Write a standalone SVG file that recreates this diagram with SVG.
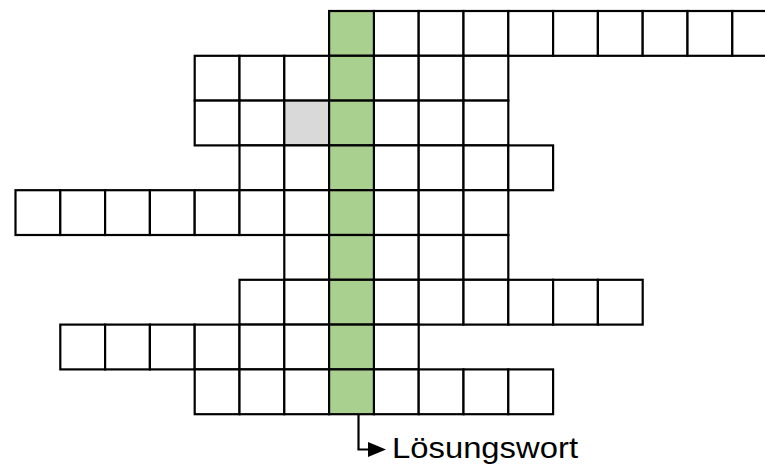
<svg xmlns="http://www.w3.org/2000/svg" width="765" height="465" viewBox="0 0 765 465">
<style>
.c{fill:#fff;stroke:#000;stroke-width:2.2}
.g{fill:#A9D08E;stroke:#000;stroke-width:2.2}
.x{fill:#D9D9D9;stroke:#000;stroke-width:2.2}
.t{font-family:"Liberation Sans",Arial,sans-serif;font-size:29px;fill:#000}
</style>
<rect width="765" height="465" fill="#fff"/>
<g id="row0">
<rect class="c" x="373.9" y="11" width="44.8" height="44.8"/>
<rect class="c" x="418.7" y="11" width="44.8" height="44.8"/>
<rect class="c" x="463.5" y="11" width="44.8" height="44.8"/>
<rect class="c" x="508.3" y="11" width="44.8" height="44.8"/>
<rect class="c" x="553.1" y="11" width="44.8" height="44.8"/>
<rect class="c" x="597.9" y="11" width="44.8" height="44.8"/>
<rect class="c" x="642.7" y="11" width="44.8" height="44.8"/>
<rect class="c" x="687.5" y="11" width="44.8" height="44.8"/>
<rect class="c" x="732.3" y="11" width="44.8" height="44.8"/>
</g>
<g id="row1">
<rect class="c" x="194.7" y="55.8" width="44.8" height="44.8"/>
<rect class="c" x="239.5" y="55.8" width="44.8" height="44.8"/>
<rect class="c" x="284.3" y="55.8" width="44.8" height="44.8"/>
<rect class="c" x="373.9" y="55.8" width="44.8" height="44.8"/>
<rect class="c" x="418.7" y="55.8" width="44.8" height="44.8"/>
<rect class="c" x="463.5" y="55.8" width="44.8" height="44.8"/>
</g>
<g id="row2">
<rect class="c" x="194.7" y="100.6" width="44.8" height="44.8"/>
<rect class="c" x="239.5" y="100.6" width="44.8" height="44.8"/>
<rect class="x" x="284.3" y="100.6" width="44.8" height="44.8"/>
<rect class="c" x="373.9" y="100.6" width="44.8" height="44.8"/>
<rect class="c" x="418.7" y="100.6" width="44.8" height="44.8"/>
<rect class="c" x="463.5" y="100.6" width="44.8" height="44.8"/>
</g>
<g id="row3">
<rect class="c" x="239.5" y="145.4" width="44.8" height="44.8"/>
<rect class="c" x="284.3" y="145.4" width="44.8" height="44.8"/>
<rect class="c" x="373.9" y="145.4" width="44.8" height="44.8"/>
<rect class="c" x="418.7" y="145.4" width="44.8" height="44.8"/>
<rect class="c" x="463.5" y="145.4" width="44.8" height="44.8"/>
<rect class="c" x="508.3" y="145.4" width="44.8" height="44.8"/>
</g>
<g id="row4">
<rect class="c" x="15.5" y="190.2" width="44.8" height="44.8"/>
<rect class="c" x="60.3" y="190.2" width="44.8" height="44.8"/>
<rect class="c" x="105.1" y="190.2" width="44.8" height="44.8"/>
<rect class="c" x="149.9" y="190.2" width="44.8" height="44.8"/>
<rect class="c" x="194.7" y="190.2" width="44.8" height="44.8"/>
<rect class="c" x="239.5" y="190.2" width="44.8" height="44.8"/>
<rect class="c" x="284.3" y="190.2" width="44.8" height="44.8"/>
<rect class="c" x="373.9" y="190.2" width="44.8" height="44.8"/>
<rect class="c" x="418.7" y="190.2" width="44.8" height="44.8"/>
<rect class="c" x="463.5" y="190.2" width="44.8" height="44.8"/>
</g>
<g id="row5">
<rect class="c" x="284.3" y="235" width="44.8" height="44.8"/>
<rect class="c" x="373.9" y="235" width="44.8" height="44.8"/>
<rect class="c" x="418.7" y="235" width="44.8" height="44.8"/>
<rect class="c" x="463.5" y="235" width="44.8" height="44.8"/>
</g>
<g id="row6">
<rect class="c" x="239.5" y="279.8" width="44.8" height="44.8"/>
<rect class="c" x="284.3" y="279.8" width="44.8" height="44.8"/>
<rect class="c" x="373.9" y="279.8" width="44.8" height="44.8"/>
<rect class="c" x="418.7" y="279.8" width="44.8" height="44.8"/>
<rect class="c" x="463.5" y="279.8" width="44.8" height="44.8"/>
<rect class="c" x="508.3" y="279.8" width="44.8" height="44.8"/>
<rect class="c" x="553.1" y="279.8" width="44.8" height="44.8"/>
<rect class="c" x="597.9" y="279.8" width="44.8" height="44.8"/>
</g>
<g id="row7">
<rect class="c" x="60.3" y="324.6" width="44.8" height="44.8"/>
<rect class="c" x="105.1" y="324.6" width="44.8" height="44.8"/>
<rect class="c" x="149.9" y="324.6" width="44.8" height="44.8"/>
<rect class="c" x="194.7" y="324.6" width="44.8" height="44.8"/>
<rect class="c" x="239.5" y="324.6" width="44.8" height="44.8"/>
<rect class="c" x="284.3" y="324.6" width="44.8" height="44.8"/>
<rect class="c" x="373.9" y="324.6" width="44.8" height="44.8"/>
</g>
<g id="row8">
<rect class="c" x="194.7" y="369.4" width="44.8" height="44.8"/>
<rect class="c" x="239.5" y="369.4" width="44.8" height="44.8"/>
<rect class="c" x="284.3" y="369.4" width="44.8" height="44.8"/>
<rect class="c" x="373.9" y="369.4" width="44.8" height="44.8"/>
<rect class="c" x="418.7" y="369.4" width="44.8" height="44.8"/>
<rect class="c" x="463.5" y="369.4" width="44.8" height="44.8"/>
<rect class="c" x="508.3" y="369.4" width="44.8" height="44.8"/>
</g>
<g id="solution">
<rect class="g" x="329.1" y="11" width="44.8" height="44.8"/>
<rect class="g" x="329.1" y="55.8" width="44.8" height="44.8"/>
<rect class="g" x="329.1" y="100.6" width="44.8" height="44.8"/>
<rect class="g" x="329.1" y="145.4" width="44.8" height="44.8"/>
<rect class="g" x="329.1" y="190.2" width="44.8" height="44.8"/>
<rect class="g" x="329.1" y="235" width="44.8" height="44.8"/>
<rect class="g" x="329.1" y="279.8" width="44.8" height="44.8"/>
<rect class="g" x="329.1" y="324.6" width="44.8" height="44.8"/>
<rect class="g" x="329.1" y="369.4" width="44.8" height="44.8"/>
</g>
<g id="connectors">
<path d="M358.5,414.2 V449.5 H370" fill="none" stroke="#000" stroke-width="2.2"/>
<polygon points="368,442 386,449.5 368,457" fill="#000"/>
</g>
<g id="label">
<text class="t" x="392" y="458" textLength="186" lengthAdjust="spacingAndGlyphs">Lösungswort</text>
</g>
</svg>
